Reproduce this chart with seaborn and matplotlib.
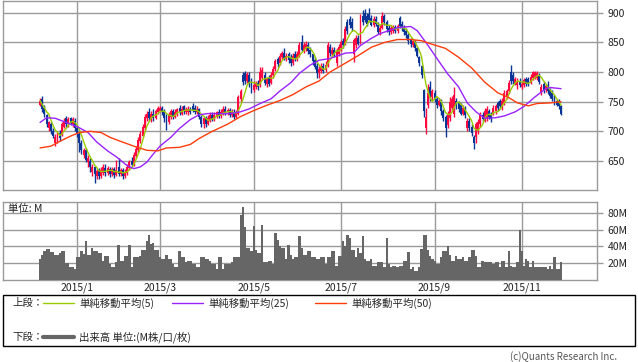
import numpy as np
import pandas as pd
import matplotlib
matplotlib.use("Agg")
import matplotlib.pyplot as plt
from matplotlib.patches import Rectangle
from matplotlib.lines import Line2D
import seaborn as sns

# --- daily candles (trading-day index 0 = early Dec 2014) ---
opens = [745, 755, 740, 728, 705, 712, 700, 680, 685, 698,
         695, 708, 722, 712, 722, 712, 718, 705, 695, 680,
         660, 668, 648, 650, 632, 640, 625, 633, 625, 630,
         638, 630, 636, 628, 636, 626, 640, 628, 634, 625,
         630, 638, 650, 645, 658, 668, 683, 692, 705, 722,
         732, 720, 730, 722, 733, 735, 740, 735, 725, 715,
         725, 735, 725, 730, 740, 730, 742, 733, 732, 738,
         742, 740, 733, 738, 725, 712, 722, 713, 718, 728,
         720, 725, 732, 726, 730, 738, 732, 736, 728, 733,
         725, 730, 755, 795, 798, 785, 795, 782, 770, 775,
         782, 778, 790, 795, 780, 790, 782, 795, 805, 822,
         815, 826, 832, 822, 830, 825, 815, 830, 822, 828,
         850, 835, 840, 845, 838, 830, 820, 810, 798, 802,
         810, 803, 810, 842, 830, 838, 815, 830, 840, 852,
         848, 885, 890, 885, 830, 845, 858, 850, 895, 900,
         895, 898, 892, 880, 890, 880, 868, 875, 895, 885,
         875, 868, 870, 876, 870, 892, 882, 876, 870, 862,
         855, 846, 850, 840, 825, 810, 770, 705, 745, 775,
         758, 765, 755, 745, 750, 735, 725, 710, 722, 740,
         730, 752, 748, 745, 730, 738, 705, 718, 708, 690,
         690, 700, 712, 728, 718, 722, 735, 728, 730, 735,
         748, 752, 740, 748, 760, 768, 800, 795, 782, 778,
         785, 775, 778, 788, 788, 782, 790, 792, 790, 795,
         765, 780, 770, 778, 770, 765, 758, 752, 750, 742]
closes = [752, 738, 730, 712, 715, 700, 692, 690, 695, 688,
          712, 718, 712, 720, 715, 720, 705, 695, 680, 668,
          668, 652, 655, 640, 640, 628, 633, 625, 635, 640,
          630, 638, 628, 636, 626, 635, 628, 634, 625, 632,
          640, 648, 643, 660, 670, 685, 695, 708, 725, 730,
          722, 730, 722, 735, 740, 740, 733, 722, 715, 728,
          735, 725, 733, 738, 732, 738, 734, 738, 738, 733,
          735, 733, 738, 725, 712, 722, 713, 722, 728, 720,
          728, 732, 726, 733, 738, 732, 736, 728, 733, 725,
          732, 758, 768, 783, 785, 797, 780, 770, 778, 782,
          775, 800, 803, 782, 788, 780, 795, 805, 818, 813,
          828, 832, 824, 828, 820, 815, 828, 822, 830, 845,
          838, 845, 848, 835, 830, 818, 808, 798, 805, 810,
          802, 812, 845, 832, 838, 830, 835, 842, 850, 845,
          872, 870, 880, 875, 855, 858, 848, 890, 885, 888,
          882, 888, 880, 890, 882, 868, 875, 895, 885, 872,
          868, 875, 876, 870, 878, 878, 875, 868, 862, 852,
          848, 852, 840, 828, 815, 795, 735, 725, 765, 760,
          768, 755, 745, 752, 735, 722, 705, 730, 750, 755,
          762, 743, 738, 730, 740, 728, 718, 705, 698, 680,
          712, 715, 728, 720, 735, 738, 724, 720, 740, 742,
          740, 742, 752, 765, 768, 782, 785, 785, 788, 785,
          778, 780, 786, 780, 780, 792, 800, 800, 798, 783,
          775, 770, 776, 768, 760, 755, 748, 745, 742, 730]
highs = [757, 760, 745, 730, 718, 716, 705, 695, 700, 702,
         715, 722, 726, 724, 725, 724, 722, 710, 700, 685,
         672, 672, 660, 655, 645, 642, 636, 638, 640, 645,
         645, 642, 640, 640, 640, 652, 655, 638, 638, 636,
         645, 652, 656, 665, 675, 690, 700, 712, 730, 735,
         740, 735, 738, 738, 743, 743, 742, 738, 730, 732,
         738, 738, 737, 740, 745, 742, 745, 741, 742, 741,
         747, 745, 742, 740, 728, 725, 726, 727, 732, 732,
         732, 735, 737, 737, 742, 742, 740, 740, 737, 737,
         736, 762, 772, 800, 802, 800, 800, 790, 785, 785,
         786, 808, 808, 800, 792, 795, 800, 810, 822, 826,
         832, 836, 840, 832, 834, 830, 833, 835, 835, 850,
         862, 850, 852, 850, 842, 833, 825, 815, 810, 815,
         815, 818, 850, 848, 842, 842, 840, 848, 855, 858,
         878, 890, 895, 892, 858, 862, 862, 898, 905, 907,
         900, 908, 897, 895, 894, 885, 880, 902, 898, 888,
         880, 880, 880, 880, 882, 895, 887, 880, 875, 866,
         858, 855, 854, 843, 828, 812, 772, 740, 780, 785,
         772, 770, 758, 756, 755, 738, 728, 735, 758, 760,
         775, 756, 752, 748, 745, 742, 722, 722, 712, 693,
         716, 720, 732, 732, 740, 742, 738, 732, 745, 746,
         752, 755, 757, 770, 772, 786, 812, 800, 792, 790,
         790, 785, 790, 792, 792, 797, 802, 802, 802, 798,
         780, 785, 780, 785, 773, 770, 762, 755, 755, 745]
lows = [742, 733, 725, 708, 700, 695, 688, 675, 680, 684,
        692, 705, 708, 708, 710, 708, 700, 690, 665, 662,
        655, 648, 640, 632, 625, 612, 620, 620, 622, 627,
        625, 626, 623, 625, 622, 624, 625, 624, 620, 622,
        627, 635, 640, 642, 655, 665, 680, 690, 703, 718,
        718, 716, 718, 720, 730, 732, 728, 715, 703, 712,
        720, 720, 722, 726, 728, 727, 730, 730, 728, 730,
        732, 730, 730, 720, 708, 705, 707, 710, 715, 717,
        718, 722, 722, 723, 728, 728, 728, 724, 724, 720,
        722, 728, 750, 778, 780, 782, 775, 765, 767, 772,
        770, 775, 787, 778, 775, 776, 780, 790, 802, 808,
        812, 822, 820, 818, 815, 810, 812, 818, 818, 825,
        835, 832, 836, 830, 825, 812, 805, 790, 790, 798,
        798, 800, 808, 828, 825, 826, 810, 827, 835, 840,
        845, 865, 875, 870, 817, 840, 845, 848, 880, 885,
        878, 884, 877, 876, 878, 865, 862, 872, 880, 868,
        863, 864, 866, 866, 866, 874, 870, 862, 858, 848,
        843, 843, 836, 825, 810, 790, 725, 695, 740, 752,
        752, 750, 740, 742, 728, 718, 690, 706, 718, 735,
        725, 738, 733, 727, 727, 723, 700, 700, 692, 670,
        680, 695, 708, 715, 715, 718, 720, 716, 727, 730,
        735, 738, 736, 745, 755, 765, 780, 780, 778, 772,
        775, 772, 775, 776, 777, 780, 786, 788, 786, 780,
        762, 765, 766, 763, 757, 752, 745, 742, 738, 727]
volumes = [25, 30, 34, 37, 37, 33, 33, 30, 30, 32,
           34, 34, 20, 20, 16, 16, 13, 27, 27, 34,
           31, 46, 30, 30, 38, 34, 34, 32, 32, 23,
           29, 29, 19, 15, 15, 21, 42, 23, 23, 29,
           29, 42, 15, 27, 27, 27, 29, 36, 36, 47,
           54, 43, 44, 36, 36, 27, 25, 25, 30, 25,
           25, 19, 15, 15, 34, 27, 27, 21, 23, 23,
           19, 19, 15, 15, 27, 27, 25, 25, 23, 19,
           19, 13, 28, 28, 13, 19, 19, 19, 21, 27,
           27, 27, 78, 87, 63, 38, 38, 34, 64, 36,
           32, 32, 66, 21, 21, 23, 23, 19, 56, 48,
           40, 38, 38, 25, 42, 30, 25, 27, 27, 52,
           38, 30, 30, 34, 34, 27, 27, 25, 25, 27,
           27, 19, 27, 27, 34, 34, 17, 29, 29, 46,
           40, 54, 50, 36, 36, 27, 38, 32, 52, 25,
           23, 23, 25, 17, 17, 21, 21, 21, 15, 50,
           19, 15, 17, 17, 15, 17, 17, 23, 23, 33,
           13, 15, 11, 11, 15, 37, 54, 54, 36, 29,
           25, 23, 19, 19, 27, 34, 34, 40, 30, 23,
           23, 29, 25, 25, 27, 23, 23, 27, 36, 36,
           29, 15, 15, 23, 21, 22, 22, 22, 19, 21,
           21, 15, 23, 23, 15, 34, 17, 15, 15, 21,
           60, 34, 17, 25, 23, 15, 23, 15, 16, 16,
           15, 16, 16, 13, 17, 13, 27, 13, 13, 21]

ma25_idx = [0, 3, 7, 12, 17, 22, 26, 31, 35, 40, 43, 46, 49, 52, 55, 60, 64, 69, 73, 77,
            81, 87, 92, 96, 101, 106, 110, 115, 119, 124, 128, 133, 140, 144, 147, 152, 156, 160, 164, 170,
            173, 178, 183, 187, 192, 196, 200, 204, 209, 213, 218, 222, 227, 232, 234, 239]
ma25_val = [715, 723, 722, 715, 708, 698, 682, 667, 657, 642, 637, 640, 648, 662, 675, 690, 705, 720, 728, 730,
            730, 730, 733, 738, 747, 755, 768, 782, 798, 812, 820, 823, 832, 833, 845, 857, 865, 870, 875, 877,
            870, 845, 818, 797, 775, 748, 733, 722, 723, 726, 733, 742, 758, 772, 774, 772]
ma50_idx = [0, 5, 9, 14, 18, 23, 28, 32, 37, 43, 49, 54, 58, 64, 69, 73, 79, 86, 92, 98,
            104, 110, 116, 122, 128, 133, 140, 146, 152, 158, 164, 170, 175, 179, 186, 192, 198, 204, 210, 215,
            219, 224, 228, 234, 239]
ma50_val = [672, 675, 683, 692, 698, 700, 698, 690, 683, 675, 668, 667, 672, 673, 678, 688, 700, 712, 725, 735,
            744, 752, 762, 775, 785, 800, 815, 828, 842, 850, 855, 855, 853, 848, 840, 825, 807, 783, 765, 757,
            748, 743, 747, 748, 750]

month_pos = [17, 55, 98, 138, 181, 221]
month_labels = ["2015/1", "2015/3", "2015/5", "2015/7", "2015/9", "2015/11"]
price_ticks = [650, 700, 750, 800, 850, 900]
vol_ticks = [20, 40, 60, 80]
vol_labels = ["20M", "40M", "60M", "80M"]

UP = "#ff0a40"
DOWN = "#0a3597"
C_MA5 = "#99cc00"
C_MA25 = "#9922ff"
C_MA50 = "#ff3c0a"
GRID = "#9a9a9a"

sns.set_style("white")
plt.rcParams['font.family'] = ['Noto Sans CJK JP', 'DejaVu Sans']

df = pd.DataFrame({"open": opens, "high": highs, "low": lows, "close": closes, "vol": volumes})
df["i"] = np.arange(len(df))
df["ma5"] = df["close"].rolling(5, min_periods=1).mean()
up = df["close"] >= df["open"]
cols = np.where(up, UP, DOWN)

W, H = 638, 362
fig = plt.figure(figsize=(W / 100, H / 100), dpi=100)
ax = fig.add_axes([3 / W, 1 - 190 / H, 594 / W, 189 / H])
axv = fig.add_axes([3 / W, 1 - 280 / H, 594 / W, 78 / H])

# candles
ax.vlines(df["i"], df["low"], df["high"], colors=cols, lw=1, zorder=2)
body = np.maximum((df["close"] - df["open"]).abs(), 1.2)
ax.bar(df["i"], body, bottom=np.minimum(df["open"], df["close"]), width=0.9,
       color=cols, linewidth=0, zorder=3)

sns.lineplot(x=df["i"], y=df["ma5"], ax=ax, color=C_MA5, lw=1, zorder=4)
sns.lineplot(x=ma25_idx, y=ma25_val, ax=ax, color=C_MA25, lw=1, zorder=4)
sns.lineplot(x=ma50_idx, y=ma50_val, ax=ax, color=C_MA50, lw=1, zorder=4)

# volume
axv.bar(df["i"], df["vol"], width=1.0, color="#666666", linewidth=0, zorder=3)

for a in (ax, axv):
    a.set_xlim(-17, 255.5)
    a.set_xticks(month_pos)
    a.grid(True, color=GRID, lw=1, zorder=0)
    a.set_axisbelow(True)
    for s in a.spines.values():
        s.set_color(GRID)
        s.set_linewidth(1)
    a.yaxis.tick_right()
    a.tick_params(axis="y", which="both", right=True, left=False, length=4.5, width=1,
                  color=GRID, pad=3, labelsize=7.5, labelcolor="#222222")
    a.set_xlabel("")
    a.set_ylabel("")

ax.set_ylim(601, 920)
ax.set_yticks(price_ticks)
ax.set_yticklabels([str(v) for v in price_ticks])
ax.tick_params(axis="x", length=0, labelbottom=False)

axv.set_ylim(0, 93)
axv.set_yticks(vol_ticks)
axv.set_yticklabels(vol_labels)
axv.set_xticklabels(month_labels)
axv.tick_params(axis="x", length=0, pad=2, labelsize=7.5, labelcolor="#222222")
axv.text(5 / 594, 1 - 7 / 78, "単位: M", transform=axv.transAxes, fontsize=7.5,
         va="center", ha="left", color="#222222")


def px(x, y):
    return x / W, 1 - y / H


# legend box
x0, y0 = px(3, 346)
fig.patches.append(Rectangle((x0, y0), 632 / W, 51 / H, transform=fig.transFigure,
                             fill=False, edgecolor="black", lw=1))
fs = 7.5
fig.text(*px(12, 303), "上段：", fontsize=fs, va="center", ha="left")
fig.text(*px(12, 337), "下段：", fontsize=fs, va="center", ha="left")
items = [(43, C_MA5, "単純移動平均(5)"), (172, C_MA25, "単純移動平均(25)"), (315, C_MA50, "単純移動平均(50)")]
for xs, c, lab in items:
    xa, ya = px(xs, 303)
    xb, _ = px(xs + 31, 303)
    fig.lines.append(Line2D([xa, xb], [ya, ya], transform=fig.transFigure, color=c, lw=1))
    fig.text(*px(xs + 36, 303), lab, fontsize=fs, va="center", ha="left")
xa, ya = px(43, 337)
xb, _ = px(74, 337)
fig.lines.append(Line2D([xa, xb], [ya, ya], transform=fig.transFigure, color="#666666", lw=3))
fig.text(*px(79, 337), "出来高 単位:(M株/口/枚)", fontsize=fs, va="center", ha="left")

fig.text(*px(617, 357), "(c)Quants Research Inc.", fontsize=7, va="center", ha="right", color="#555555")

fig.savefig("out.png", dpi=100)
